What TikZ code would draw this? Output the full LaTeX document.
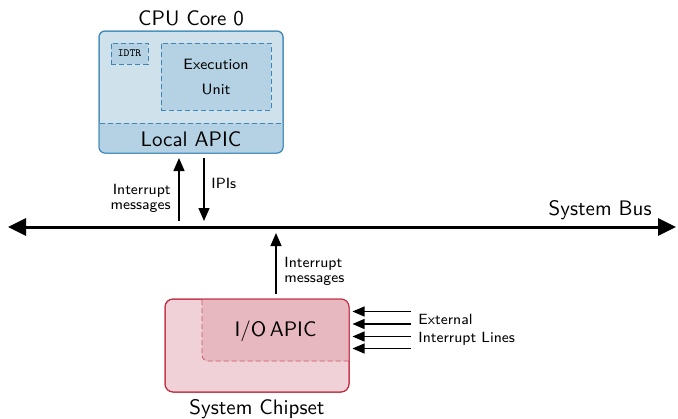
\documentclass[tikz,border=0pt]{standalone}
\usetikzlibrary{arrows.meta}
\definecolor{bluefill}{HTML}{CFE1EB}
\definecolor{bluedark}{HTML}{B4D2E3}
\definecolor{blueline}{HTML}{3D87B8}
\definecolor{pinkfill}{HTML}{F0D1D7}
\definecolor{pinkdark}{HTML}{E8B8C0}
\definecolor{pinkline}{HTML}{C02A40}
\begin{document}
\begin{tikzpicture}[x=0.5pt,y=-0.5pt,font=\sffamily,
  bigtext/.style={inner sep=0pt,font=\sffamily\fontsize{10.5}{12}\selectfont},
  smalltext/.style={inner sep=0pt,font=\sffamily\fontsize{7.4}{7.5}\selectfont},
  dsh/.style={dash pattern=on 2.5pt off 1.5pt},
  sarrow/.style={line width=0.6pt,-{Triangle[length=6.5pt,width=5.5pt]}},
  boxnode/.style={inner sep=0pt,line width=0.5pt}]
\useasboundingbox (0,0) rectangle (678,418);

% CPU core box
\node[boxnode,draw=blueline,fill=bluefill,rounded corners=3pt,minimum width=92pt,minimum height=61pt] (cpu) at (191,92) {};
\begin{scope}
\clip[rounded corners=3pt] (99,31) rectangle (283,153);
\fill[bluedark] (99,123) rectangle (283,153);
\end{scope}
\draw[blueline,dsh,line width=0.4pt] (99.5,123) -- (282.5,123);
\draw[blueline,line width=0.5pt,rounded corners=3pt] (99,31) rectangle (283,153);
\node[bigtext,anchor=base] (lapic) at (191,146.5) {Local APIC};
\node[bigtext,anchor=base] (cputitle) at (191,25) {CPU Core 0};
\node[boxnode,draw=blueline,fill=bluedark,dsh,minimum width=18.5pt,minimum height=10.5pt,line width=0.4pt,
  font=\ttfamily\fontsize{5.5}{5.5}\selectfont] (idtr) at (129.5,53.5) {IDTR};
\node[boxnode,draw=blueline,fill=bluedark,dsh,minimum width=55pt,minimum height=33.5pt,line width=0.4pt,
  align=center,font=\sffamily\fontsize{7.5}{12.5}\selectfont] (exec) at (216,76.5) {Execution\\Unit};

% System bus
\coordinate (busL) at (8,227);
\coordinate (busR) at (676,227);
\draw[line width=1.5pt,{Triangle[length=9pt,width=8.5pt]}-{Triangle[length=9pt,width=8.5pt]}] (busL) -- (busR);
\node[bigtext,anchor=base east] (buslabel) at (652,215) {System Bus};

% arrows CPU <-> bus
\coordinate (upA0) at (179,220.5);
\coordinate (upA1) at (179,158);
\coordinate (dnA0) at (204,158);
\coordinate (dnA1) at (204,221);
\draw[sarrow] (upA0) -- (upA1);
\draw[sarrow] (dnA0) -- (dnA1);
\node[smalltext,align=right,anchor=base east] (im1) at (171,209.5) {Interrupt\\messages};
\node[smalltext,anchor=base west] (ipis) at (211,188.5) {IPIs};

% Chipset
\node[boxnode,draw=pinkline,fill=pinkfill,rounded corners=4pt,minimum width=92pt,minimum height=46.5pt] (chip) at (257,345.5) {};
\begin{scope}
\clip[rounded corners=4pt] (165,299) rectangle (349,392);
\fill[pinkdark,rounded corners=3pt] (202,280) rectangle (370,361);
\end{scope}
\draw[pinkline!70!pinkdark,dsh,line width=0.4pt,rounded corners=3pt] (202,300) -- (202,361) -- (348.5,361);
\draw[pinkline,line width=0.5pt,rounded corners=4pt] (165,299) rectangle (349,392);
\node[bigtext,anchor=base] (ioapic) at (275.5,336) {I/O\,APIC};
\node[bigtext,anchor=base] (chiplabel) at (257,414) {System Chipset};

% chipset -> bus
\coordinate (upB0) at (276,294);
\coordinate (upB1) at (276,233);
\draw[sarrow] (upB0) -- (upB1);
\node[smalltext,align=left,anchor=base west] (im2) at (284,282) {Interrupt\\messages};

% external lines
\foreach \i/\yy in {1/311.5,2/324,3/336.5,4/348.5}{
  \coordinate (ext\i) at (411,\yy);
  \coordinate (in\i) at (352.5,\yy);
  \draw[line width=0.55pt,-{Triangle[length=6pt,width=5pt]}] (ext\i) -- (in\i);
}
\node[inner sep=0pt,font=\sffamily\fontsize{7.4}{9}\selectfont,align=left,anchor=base west] (extlabel) at (418,342) {External\\Interrupt Lines};
\end{tikzpicture}
\end{document}
